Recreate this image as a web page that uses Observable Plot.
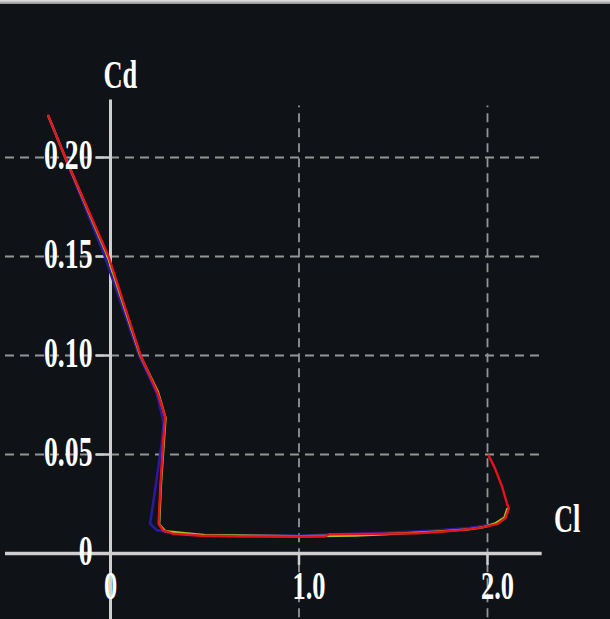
<!DOCTYPE html>
<html><head><meta charset="utf-8">
<script src="https://cdn.jsdelivr.net/npm/d3@7"></script>
<script src="https://cdn.jsdelivr.net/npm/@observablehq/plot@0.6"></script>
<style>
html,body{margin:0;padding:0;background:#0f1216;overflow:hidden;}
#topbar{height:4px;background:linear-gradient(#e8e8e8,#8a8a8a);}
#chart svg{display:block;}
</style></head><body>
<div id="topbar"></div>
<div id="chart"></div>
<script>
// Series (Cl, Cd)
const redCl = [-0.33,-0.24,-0.01,0.16,0.25,0.29,0.28,0.265,0.255,0.28,0.33,0.48,0.7,1.0,1.14,1.16,1.4,1.63,1.75,1.86,1.97,2.05,2.095,2.113,2.104,2.078,2.04,2.006];
const redCd = [0.221,0.2,0.15,0.1,0.081,0.069,0.057,0.035,0.015,0.0115,0.0100,0.0090,0.0086,0.0086,0.0087,0.0097,0.0099,0.0102,0.0110,0.0118,0.0132,0.0148,0.0178,0.0226,0.0251,0.0335,0.043,0.0495];
const blueCl = [-0.33,-0.24,-0.03,0.152,0.245,0.282,0.272,0.238,0.21,0.245,0.33,0.5,1.0,1.2,1.45,1.7,1.9,2.0];
const blueCd = [0.221,0.2,0.15,0.1,0.081,0.066,0.056,0.033,0.015,0.0118,0.0104,0.0094,0.0089,0.0097,0.0104,0.0115,0.0128,0.0142];
const yellowCl = [-0.33,-0.24,-0.015,0.158,0.252,0.292,0.283,0.268,0.258,0.29,0.5,1.0,1.3,1.45,1.6,1.75,1.9,1.98,2.04,2.09,2.105];
const yellowCd = [0.221,0.2,0.15,0.1,0.0815,0.0685,0.0565,0.0355,0.0148,0.0113,0.0092,0.0087,0.0091,0.0097,0.0104,0.0112,0.0122,0.0133,0.0152,0.0182,0.0225];

// Ticks
const yTicks = [0, 0.05, 0.10, 0.15, 0.20];
const yTickLabels = ["0", "0.05", "0.10", "0.15", "0.20"];
const yGrid = [0.05, 0.10, 0.15, 0.20];
const xTicks = [0, 1.0, 2.0];
const xTickLabels = ["0", "1.0", "2.0"];
const xGrid = [1.0, 2.0];
const axisTitles = [{text: "Cd", x: 0, y: 0.2414}, {text: "Cl", x: 2.39, y: 0.0172}];

// Extents of the drawn axis frame (data units)
const hExtent = [-0.557, 2.29];
const vExtent = [-0.04, 0.229];
const gridVExtent = [-0.04, 0.226];

const toRows = (xs, ys) => xs.map((x, i) => ({Cl: x, Cd: ys[i]}));
const red = toRows(redCl, redCd), blue = toRows(blueCl, blueCd), yellow = toRows(yellowCl, yellowCd);

const axisColor = "#cfcfcf", gridColor = "#959595";
const plot = Plot.plot({
  width: 610, height: 615, margin: 0,
  style: {background: "#0f1216", color: "#fff", fontFamily: "'Liberation Serif', 'Times New Roman', serif", overflow: "visible"},
  x: {domain: [0, 2], range: [110, 487], axis: null},
  y: {domain: [0, 0.2], range: [549, 153], axis: null},
  marks: [
    Plot.ruleY(yGrid, {y: d => d, x1: () => hExtent[0], x2: () => hExtent[1] - 0.01, stroke: gridColor, strokeWidth: 1.8, strokeDasharray: "9,6"}),
    Plot.ruleX(xGrid, {x: d => d, y1: () => gridVExtent[0], y2: () => gridVExtent[1], stroke: gridColor, strokeWidth: 1.8, strokeDasharray: "9,6"}),
    Plot.ruleY([0], {y: d => d, x1: () => hExtent[0], x2: () => hExtent[1], stroke: axisColor, strokeWidth: 3.5}),
    Plot.ruleX([0], {x: d => d, y1: () => vExtent[0], y2: () => vExtent[1], stroke: axisColor, strokeWidth: 3}),
    Plot.ruleY(yGrid, {y: d => d, x1: () => -0.075, x2: () => 0, stroke: axisColor, strokeWidth: 2.5}),
    Plot.ruleX(xGrid, {x: d => d, y1: () => -0.006, y2: () => 0, stroke: axisColor, strokeWidth: 2.5}),
    Plot.line(blue, {x: "Cl", y: "Cd", stroke: "#2a1a9c", strokeWidth: 2.6}),
    Plot.line(yellow, {x: "Cl", y: "Cd", stroke: "#a9bf1c", strokeWidth: 2.4}),
    Plot.line(red, {x: "Cl", y: "Cd", stroke: "#e3121e", strokeWidth: 2.4}),
    Plot.text(yTicks, {x: () => 0, y: d => d, text: (d, i) => yTickLabels[i], dx: -18, dy: -2, textAnchor: "end", fontSize: 42, fontWeight: "bold", fill: "#fff"}),
    Plot.text([xTicks[0]], {x: d => d, y: () => 0, text: () => xTickLabels[0], dy: 33, textAnchor: "middle", fontSize: 40, fontWeight: "bold", fill: "#fff"}),
    Plot.text(xTicks.slice(1), {x: d => d, y: () => 0, text: (d, i) => xTickLabels[i + 1], dx: 10, dy: 33, textAnchor: "middle", fontSize: 40, fontWeight: "bold", fill: "#fff"}),
    Plot.text(axisTitles, {x: "x", y: "y", text: "text", textAnchor: "start", dx: -7, fontSize: 40, fontWeight: "bold", fill: "#fff"})
  ]
});
d3.select(plot).selectAll("text").each(function() {
  const t = this.getAttribute("transform") || "";
  this.setAttribute("transform", t + " scale(0.66,1)");
});
document.getElementById("chart").appendChild(plot);
</script>
</body></html>
